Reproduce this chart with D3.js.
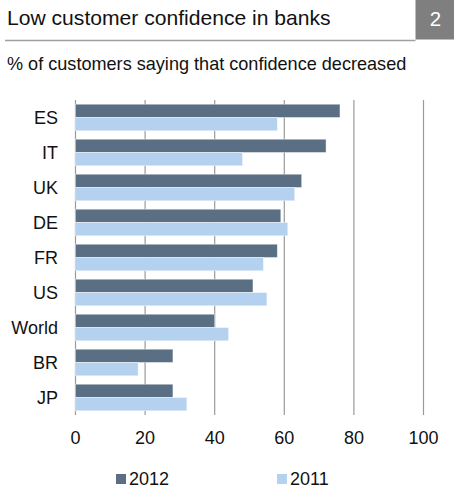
<!DOCTYPE html>
<html>
<head>
<meta charset="utf-8">
<script src="https://cdn.jsdelivr.net/npm/d3@7"></script>
<style>
  html, body { margin: 0; padding: 0; background: #fff; }
  svg { display: block; font-family: "Liberation Sans", Arial, sans-serif; }
</style>
</head>
<body>
<svg id="chart" width="454" height="491"></svg>
<script>
// Survey results: share of customers whose confidence in banks decreased
const categories = ["ES", "IT", "UK", "DE", "FR", "US", "World", "BR", "JP"];
const values2012 = [76, 72, 65, 59, 58, 51, 40, 28, 28];
const values2011 = [58, 48, 63, 61, 54, 55, 44, 18, 32];
const seriesNames = ["2012", "2011"];
const seriesColors = ["#5a6f84", "#b4d1f0"];
const xTicks = [0, 20, 40, 60, 80, 100];

const svg = d3.select("#chart");

// Header: title, rule and number box
svg.append("text")
  .attr("x", 7).attr("y", 25)
  .attr("font-size", 21.1).attr("fill", "#111")
  .text("Low customer confidence in banks");
svg.append("line")
  .attr("x1", 5).attr("x2", 415.5).attr("y1", 40.5).attr("y2", 40.5)
  .attr("stroke", "#a0a0a0").attr("stroke-width", 1.5);
svg.append("rect")
  .attr("x", 415.5).attr("y", 0).attr("width", 38.5).attr("height", 39.5)
  .attr("fill", "#7f7f7f");
svg.append("text")
  .attr("x", 435.5).attr("y", 26)
  .attr("text-anchor", "middle")
  .attr("font-size", 20.5).attr("fill", "#fff")
  .text("2");
svg.append("text")
  .attr("x", 7).attr("y", 69.5)
  .attr("font-size", 18.1).attr("fill", "#111")
  .text("% of customers saying that confidence decreased");

// Scales
const x = d3.scaleLinear().domain([0, 100]).range([75.5, 423.5]);
const y = d3.scaleBand().domain(categories).range([100, 415]).paddingInner(0.24).paddingOuter(0.12);
const ySeries = d3.scaleBand().domain(seriesNames).range([0, y.bandwidth()]);

// Vertical gridlines (value 0 acts as the axis line)
svg.append("g")
  .selectAll("line")
  .data(xTicks)
  .join("line")
  .attr("x1", d => x(d)).attr("x2", d => x(d))
  .attr("y1", 100).attr("y2", 415)
  .attr("stroke", "#9a9a9a").attr("stroke-width", 1.2);

// Bars
const rows = categories.map((c, i) => ({ c, v: [values2012[i], values2011[i]] }));
const groups = svg.append("g")
  .selectAll("g")
  .data(rows)
  .join("g")
  .attr("transform", d => `translate(0,${y(d.c)})`);
groups.selectAll("rect")
  .data(d => d.v.map((v, k) => ({ v, k })))
  .join("rect")
  .attr("x", x(0))
  .attr("y", d => ySeries(seriesNames[d.k]))
  .attr("width", d => x(d.v) - x(0))
  .attr("height", ySeries.bandwidth())
  .attr("fill", d => seriesColors[d.k])
  .attr("stroke", "#ffffff").attr("stroke-opacity", 0.55).attr("stroke-width", 0.8);

// Category labels
svg.append("g")
  .selectAll("text")
  .data(categories)
  .join("text")
  .attr("x", 58)
  .attr("y", d => y(d) + y.bandwidth() / 2)
  .attr("dy", "0.36em")
  .attr("text-anchor", "end")
  .attr("font-size", 18).attr("fill", "#111")
  .text(d => d);

// Value axis labels
svg.append("g")
  .selectAll("text")
  .data(xTicks)
  .join("text")
  .attr("x", d => x(d))
  .attr("y", 444)
  .attr("text-anchor", "middle")
  .attr("font-size", 18).attr("fill", "#111")
  .text(d => d);

// Legend
const legendX = [116, 277];
const legend = svg.append("g")
  .selectAll("g")
  .data(seriesNames)
  .join("g")
  .attr("transform", (d, i) => `translate(${legendX[i]},474)`);
legend.append("rect")
  .attr("width", 10).attr("height", 10)
  .attr("fill", (d, i) => seriesColors[i]);
legend.append("text")
  .attr("x", 13).attr("y", 11)
  .attr("font-size", 18).attr("fill", "#111")
  .text(d => d);
</script>
</body>
</html>
